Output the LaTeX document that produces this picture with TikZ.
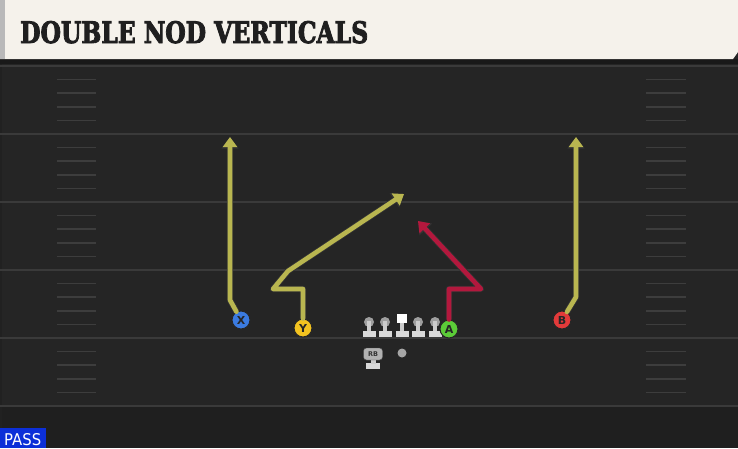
\documentclass[tikz,border=0pt]{standalone}
\usepackage{fontspec}
\setmainfont{DejaVu Serif}
\newfontfamily\badgefont{DejaVu Sans}
\newfontfamily\titlefont[FakeBold=3]{DejaVu Serif Condensed}
\usepackage{tikz}
\usetikzlibrary{arrows.meta}

\definecolor{fieldgray}{HTML}{252525}
\definecolor{fieldlow}{HTML}{1F1F1F}
\definecolor{headcream}{HTML}{F5F2EB}
\definecolor{yardline}{HTML}{3A3A3A}
\definecolor{hashgray}{HTML}{3D3D3D}
\definecolor{routeyellow}{HTML}{B9B650}
\definecolor{routered}{HTML}{B3183D}
\definecolor{passblue}{HTML}{0C2FD8}
\definecolor{xblue}{HTML}{3B7BE0}
\definecolor{yyellow}{HTML}{F3C320}
\definecolor{agreen}{HTML}{5CCC38}
\definecolor{bred}{HTML}{E23A3A}

\tikzset{
  player/.style={circle, draw=black!85, line width=1pt, minimum size=18pt, inner sep=0pt,
    font=\badgefont\bfseries\fontsize{11}{11}\selectfont, text=black!85},
  route/.style={line width=4.6pt, line join=round, line cap=round,
    -{Triangle[width=14pt,length=10pt]},
    preaction={draw=black!80, line width=6.2pt, line join=round, -{Triangle[width=16.5pt,length=11.5pt]}}},
  lineman/.pic={
    \fill[gray!75!white] (0,0) circle (5);
    \fill[gray!40!white] (-2.3,-1) -- (2.3,-1) -- (2.3,9) -- (-2.3,9) -- cycle;
    \fill[gray!30!white] (-6.5,9) rectangle (6.5,14.5);
  },
  snapper/.pic={
    \fill[white] (-5,-8.5) rectangle (5,1);
    \fill[gray!40!white] (-2.3,1) -- (2.3,1) -- (2.3,9) -- (-2.3,9) -- cycle;
    \fill[gray!30!white] (-6.5,9) rectangle (6.5,14.5);
  }
}

\begin{document}
\begin{tikzpicture}[x=1pt,y=-1pt]
\useasboundingbox (0,0) rectangle (738,448);

% field
\fill[fieldgray] (0,0) rectangle (738,448);
\fill[fieldlow] (0,407) rectangle (738,448);
\fill[black!12!fieldgray] (0,60) rectangle (2,448);
\foreach \yy in {66,134,202,270,338,406} {
  \draw[yardline, line width=2pt] (0,\yy) -- (738,\yy);
}
\foreach \yy in {66,134,202,270,338} {
  \foreach \k in {1,2,3,4} {
    \draw[hashgray, line width=1.6pt] (57,\yy+13.6*\k) -- (96,\yy+13.6*\k);
    \draw[hashgray, line width=1.6pt] (646,\yy+13.6*\k) -- (686,\yy+13.6*\k);
  }
}

% header
\fill[black!90] (0,59) rectangle (738,64);
\fill[headcream] (0,0) -- (738,0) -- (738,52) -- (733,59) -- (0,59) -- cycle;
\fill[gray!55] (0,0) rectangle (5,59);
\node[anchor=base west, inner sep=0pt, text=black!88] (title) at (20,43)
  {\resizebox{348pt}{22pt}{\titlefont\bfseries DOUBLE NOD VERTICALS}};

% formation
\pic at (369,322) {lineman};
\pic at (385,322) {lineman};
\pic at (402,322) {snapper};
\pic at (418,322) {lineman};
\pic at (435,322) {lineman};
\fill[gray!30!white] (366,363) rectangle (380,369);
\fill[gray!40!white] (371,359) rectangle (375.5,364);
\node[draw=black!70, fill=gray!60!white, rounded corners=3pt, minimum width=19pt, minimum height=12pt,
  inner sep=0pt, font=\badgefont\bfseries\fontsize{6.5}{6.5}\selectfont, text=black!80] (RB) at (373,354) {RB};
\node[circle, fill=gray!70, minimum size=9pt, inner sep=0pt] (QB) at (402,353) {};

\node[player, fill=xblue] (X) at (241,320) {X};
\node[player, fill=yyellow] (Y) at (303,328) {Y};
\node[player, fill=agreen] (A) at (449,329) {A};
\node[player, fill=bred] (B) at (562,320) {B};

% routes
\coordinate (xbend) at (230,300);
\coordinate (xtip) at (230,137);
\coordinate (ystem) at (303,289);
\coordinate (yback) at (273,289);
\coordinate (yturn) at (288,271);
\coordinate (ytip) at (404,194);
\coordinate (astem) at (449,289);
\coordinate (aout) at (481,289);
\coordinate (atip) at (418,221);
\coordinate (bbend) at (576,297);
\coordinate (btip) at (576,137);

\draw[route, routeyellow] (X) -- (xbend) -- (xtip);
\draw[route, routeyellow] (Y) -- (ystem) -- (yback) -- (yturn) -- (ytip);
\draw[route, routered] (A) -- (astem) -- (aout) -- (atip);
\draw[route, routeyellow] (B) -- (bbend) -- (btip);

% play type
\fill[passblue] (0,428) rectangle (46,448);
\node[anchor=base west, inner sep=0pt, text=white] (pass) at (4,445)
  {\resizebox{37pt}{12pt}{\badgefont PASS}};
\end{tikzpicture}
\end{document}
